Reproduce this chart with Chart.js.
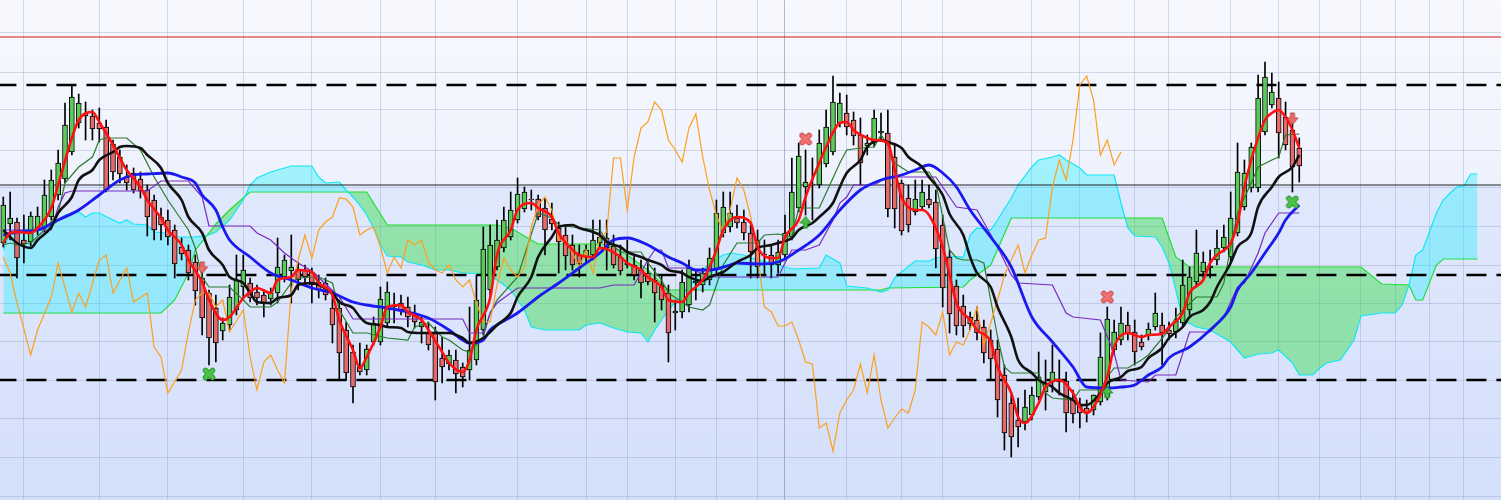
<!DOCTYPE html>
<html>
<head>
<meta charset="utf-8">
<script src="https://cdn.jsdelivr.net/npm/chart.js@4.4.1/dist/chart.umd.min.js"></script>
<style>
  html, body { margin: 0; padding: 0; background: #ffffff; }
  #wrap { width: 1501px; height: 500px; }
</style>
</head>
<body>
<div id="wrap"><canvas id="ichimokuChart"></canvas></div>
<script>
// candles, one per bar index
var candleOpen = [257,276,278,260,258,270,272,283,305,321, 348,377,387,384,377,373,356,343,323,327,
  321,310,300,283,280,270,253,250,238,222, 207,192,169,175,190,213,217,208,205,201,
  207,223,229,231,230,228,218,217,192,192, 170,148,133,130,158,158,177,195,197,193,
  187,173,167,167,142,136,140,133,130,140, 170,210,233,252,263,280,291,301,301,292,
  281,272,265,255,245,243,245,257,262,254, 243,237,235,230,227,220,215,207,187,188,
  195,217,215,220,230,267,273,282,278,267, 260,246,245,235,245,263,292,313,316,315,
  336,348,377,387,380,365,354,357,367,367, 343,317,302,288,293,301,298,275,243,214,
  194,183,180,173,160,151,125,97,80,78, 85,103,108,118,120,119,100,94,92,90,
  98,103,150,160,175,168,158,165,173,175, 170,168,177,190,218,228,234,240,252,243,
  267,293,312,312,368,395,402,383,370,352];
var candleHigh = [303,308,282,285,288,293,320,330,350,397, 415,406,398,390,392,380,360,350,335,332,
  328,315,305,292,290,275,262,255,245,235, 210,205,182,215,245,245,222,215,210,212,
  262,245,265,238,235,232,225,222,207,200, 178,155,157,155,183,213,218,207,205,203,
  195,183,178,173,163,150,150,137,193,225, 273,275,280,293,308,322,313,310,305,302,
  297,278,275,265,255,255,280,280,280,265, 255,260,245,240,238,232,225,215,200,230,
  240,230,232,252,300,308,308,295,290,275, 270,260,255,260,285,342,357,350,342,370,
  390,424,407,405,388,382,365,390,387,390, 355,320,315,320,320,315,310,285,250,220,
  205,188,193,180,170,160,135,105,102,110, 113,148,140,155,140,128,110,102,100,105,
  167,193,180,193,188,180,165,177,207,187, 178,192,240,233,270,248,250,270,275,308,
  357,340,357,425,438,427,418,398,385,362];
var candleLow = [253,260,222,237,254,265,268,280,300,317, 345,372,360,360,358,308,320,317,310,307,
  302,264,260,260,255,222,240,220,195,165, 135,138,160,170,185,200,198,195,183,195,
  197,218,197,210,215,197,202,200,157,120, 120,97,125,125,155,155,173,177,185,173,
  172,157,150,100,117,130,107,113,120,135, 165,205,230,248,260,277,288,290,280,245,
  270,227,230,230,223,238,240,252,230,232, 225,232,220,202,215,178,190,138,170,182,
  188,200,208,215,227,263,268,272,260,222, 222,225,222,227,240,260,288,285,280,312,
  333,345,373,365,355,315,345,353,360,283, 272,265,268,285,290,292,232,193,167,165,
  163,170,160,137,120,83,50,43,53,70, 80,100,90,108,105,68,77,72,78,85,
  95,100,145,155,160,135,150,160,170,135, 160,162,174,185,213,222,222,235,248,238,
  264,290,308,308,365,392,342,350,308,318];
var candleClose = [295,282,242,256,284,284,305,320,337,375, 403,397,384,371,371,310,328,326,317,310,
  309,283,270,275,263,236,246,227,209,182, 162,157,177,203,220,230,202,202,197,207,
  233,240,233,220,223,215,210,205,175,147, 127,113,128,151,177,201,208,193,190,183,
  178,178,155,118,133,145,126,123,150,200, 251,255,260,280,290,306,308,300,283,270,
  276,258,244,235,236,250,260,263,252,235, 229,235,225,217,218,207,200,167,189,218,
  232,219,227,242,287,293,287,277,267,248, 233,245,235,248,267,308,344,318,315,357,
  373,398,397,373,364,337,357,382,369,291, 291,269,275,301,308,295,251,212,186,174,
  174,176,167,147,141,100,67,63,73,93, 105,123,117,128,118,87,86,87,87,105,
  143,181,168,177,167,148,153,171,187,167, 166,179,215,223,247,238,232,252,263,282,
  328,327,353,402,423,408,367,355,333,334];

// indicator lines as [bar index, value]
var fastLine = [[0,257],[1,267],[2,268],[4,267],[5,272],[7,292],[8,315],[10,362],[11,380],[13,388],[14,378],[16,355],[17,342],[18,330],[20,313],[21,300],[23,282],[24,270],[26,255],[27,240],[29,218],[30,200],[32,180],[33,183],[35,202],[36,208],[37,212],[39,207],[40,220],[42,223],[43,230],[45,228],[46,217],[48,205],[49,180],[51,150],[52,132],[53,143],[55,173],[56,193],[58,195],[59,188],[61,180],[62,170],[64,148],[65,137],[67,128],[68,140],[69,170],[71,202],[72,245],[74,270],[75,290],[77,297],[78,292],[80,283],[81,267],[83,250],[84,245],[86,243],[87,252],[88,251],[90,243],[91,237],[93,230],[94,223],[96,213],[97,200],[99,198],[100,207],[102,220],[103,233],[104,250],[105,270],[107,283],[109,277],[110,253],[112,242],[113,242],[114,263],[116,280],[117,303],[119,337],[120,353],[122,377],[123,378],[124,370],[126,362],[127,360],[129,357],[130,330],[131,303],[133,290],[134,290],[135,285],[137,253],[138,225],[139,197],[141,180],[142,170],[144,158],[145,133],[147,107],[148,83],[149,77],[151,97],[152,113],[154,120],[156,107],[157,93],[158,87],[159,93],[161,123],[162,153],[164,167],[166,163],[167,165],[169,166],[170,173],[172,187],[173,207],[175,220],[176,237],[177,245],[179,257],[180,277],[181,313],[182,340],[184,380],[185,387],[186,390],[187,383],[188,370],[189,352]];
var midLine = [[0,270],[1,263],[2,257],[4,252],[5,260],[7,273],[8,287],[10,303],[11,320],[13,330],[14,340],[16,348],[17,353],[18,354],[20,352],[21,345],[23,332],[24,317],[26,300],[27,283],[29,267],[30,250],[32,235],[33,223],[35,217],[36,207],[37,198],[39,197],[40,202],[42,205],[43,215],[45,217],[46,215],[48,207],[49,198],[51,192],[52,183],[53,177],[55,175],[56,173],[58,172],[59,168],[61,167],[65,167],[67,162],[68,157],[70,162],[71,168],[72,175],[74,187],[75,203],[77,223],[78,243],[80,263],[81,273],[83,275],[84,272],[86,268],[87,265],[88,258],[90,253],[91,248],[93,243],[94,240],[96,235],[97,230],[99,227],[100,223],[102,219],[103,223],[105,228],[106,233],[107,238],[109,245],[110,252],[112,255],[113,257],[115,262],[116,270],[118,277],[119,283],[121,297],[122,313],[123,327],[125,340],[126,353],[128,360],[129,358],[131,352],[132,343],[134,333],[135,323],[137,305],[138,286],[140,265],[141,243],[142,227],[144,213],[145,193],[147,163],[148,140],[150,127],[151,120],[153,113],[154,107],[156,100],[157,95],[158,95],[160,107],[161,117],[163,123],[164,129],[166,133],[167,142],[169,152],[170,162],[172,173],[173,183],[175,190],[176,198],[177,213],[179,237],[180,253],[182,267],[183,293],[185,313],[186,323],[188,333],[189,345]];
var slowLine = [[0,265],[2,268],[5,270],[8,280],[11,290],[14,305],[17,320],[19,325],[21,326],[24,327],[26,323],[28,317],[29,305],[31,290],[32,273],[33,260],[36,243],[39,227],[42,220],[45,212],[48,207],[51,198],[53,195],[56,192],[59,188],[62,182],[65,170],[67,160],[68,157],[70,160],[71,170],[72,175],[75,187],[78,203],[81,217],[84,232],[87,247],[89,260],[91,262],[94,255],[97,243],[99,237],[101,230],[103,230],[106,235],[107,237],[110,236],[113,238],[116,250],[119,265],[122,290],[125,310],[128,320],[131,325],[133,330],[135,335],[137,327],[139,313],[141,290],[144,263],[147,233],[150,183],[153,158],[156,133],[158,113],[161,112],[163,113],[165,115],[167,125],[169,133],[170,142],[173,153],[176,170],[179,193],[180,210],[182,227],[184,247],[186,267],[187,280],[189,295]];
var tenkanLine = [[0,255],[1,257],[2,255],[4,257],[6,270],[8,287],[9,317],[11,333],[13,343],[14,360],[15,362],[18,362],[20,350],[22,323],[24,300],[26,280],[27,270],[28,252],[29,223],[30,213],[33,213],[35,200],[36,193],[39,193],[40,198],[42,217],[43,222],[46,223],[48,217],[49,190],[51,167],[53,167],[56,162],[59,160],[60,173],[62,177],[64,163],[65,160],[67,150],[68,148],[70,163],[71,187],[72,200],[75,223],[78,287],[80,282],[81,275],[84,272],[87,270],[88,260],[90,248],[93,248],[94,237],[96,220],[97,207],[99,198],[100,193],[102,190],[103,195],[104,215],[105,235],[107,257],[110,257],[111,265],[113,266],[115,263],[116,292],[119,292],[120,307],[122,337],[123,350],[125,352],[127,353],[128,365],[129,355],[130,337],[132,328],[135,328],[136,317],[137,283],[138,250],[139,242],[140,240],[142,240],[143,237],[144,200],[145,163],[146,133],[147,127],[151,127],[152,107],[153,102],[156,100],[157,110],[160,110],[161,123],[162,132],[164,132],[166,140],[167,145],[170,170],[171,183],[174,203],[177,203],[178,217],[179,253],[180,287],[182,317],[183,333],[185,340],[186,343],[187,365],[189,366]];
var kijunLine = [[0,270],[7,270],[8,293],[9,307],[10,309],[21,309],[23,319],[27,319],[29,303],[30,274],[36,274],[37,267],[39,260],[41,247],[43,237],[45,229],[49,203],[51,181],[67,181],[68,167],[70,167],[71,187],[72,197],[75,212],[87,212],[89,215],[92,215],[94,240],[95,250],[96,250],[97,232],[100,232],[103,223],[113,223],[114,237],[115,250],[117,250],[119,255],[121,280],[122,297],[123,303],[124,315],[127,315],[129,323],[136,323],[137,313],[139,293],[142,290],[145,253],[147,225],[148,217],[153,215],[155,187],[156,183],[160,180],[162,147],[163,120],[167,118],[168,125],[171,125],[173,168],[176,168],[178,183],[180,213],[181,217],[183,247],[184,267],[186,287],[189,287]];
var laggingLine = [[0,243],[1,227],[2,197],[4,145],[5,170],[7,203],[8,237],[10,188],[11,207],[12,193],[14,240],[15,245],[16,207],[18,232],[19,198],[21,207],[22,153],[23,143],[24,107],[26,130],[27,168],[28,200],[29,207],[30,207],[31,193],[32,200],[33,168],[35,190],[36,143],[37,110],[38,138],[39,145],[40,130],[41,117],[42,210],[43,240],[44,265],[45,242],[46,270],[47,278],[48,283],[49,302],[50,301],[51,293],[52,265],[53,270],[54,273],[55,253],[56,227],[57,243],[58,232],[59,260],[60,255],[61,260],[62,238],[63,230],[64,227],[65,235],[66,220],[67,213],[68,220],[69,197],[70,178],[71,178],[72,215],[73,242],[74,230],[75,223],[76,233],[77,273],[78,295],[79,303],[80,290],[81,260],[82,260],[83,247],[84,233],[85,250],[86,227],[87,263],[88,268],[89,342],[90,342],[91,290],[92,343],[93,372],[94,378],[95,398],[96,390],[97,360],[98,350],[99,338],[100,372],[101,386],[102,343],[103,310],[104,285],[105,267],[106,290],[107,322],[108,310],[109,283],[110,245],[111,193],[112,188],[113,174],[114,174],[115,178],[116,160],[117,138],[118,136],[119,72],[120,77],[121,49],[122,87],[123,100],[124,110],[125,136],[126,107],[127,145],[128,100],[129,72],[130,82],[131,91],[132,87],[133,110],[134,178],[135,173],[136,165],[137,188],[138,145],[139,158],[140,155],[141,170],[142,193],[143,155],[144,177],[145,200],[146,225],[147,240],[148,255],[149,227],[150,245],[151,260],[152,262],[153,313],[154,340],[155,320],[156,360],[157,415],[158,424],[159,400],[160,345],[161,360],[162,335],[163,348]];
var spanA = [[0,250],[1,267],[4,272],[7,273],[8,280],[9,285],[11,288],[12,283],[13,287],[14,287],[16,280],[17,277],[18,280],[19,276],[21,275],[22,268],[24,267],[25,263],[28,263],[30,265],[31,268],[33,280],[35,300],[36,315],[37,322],[39,328],[42,334],[45,334],[46,323],[47,317],[49,318],[50,310],[51,303],[52,295],[53,285],[54,272],[55,255],[56,244],[58,243],[59,238],[61,235],[63,230],[65,230],[67,227],[70,226],[71,225],[74,210],[76,190],[77,173],[79,170],[81,170],[84,170],[85,175],[87,177],[89,172],[91,168],[93,167],[94,158],[95,170],[97,190],[99,205],[101,222],[103,237],[105,245],[106,247],[108,245],[110,240],[112,237],[115,231],[119,232],[120,245],[122,237],[123,214],[126,212],[128,208],[129,210],[130,222],[131,228],[133,239],[135,239],[136,242],[138,244],[140,243],[141,265],[142,272],[144,270],[145,280],[147,302],[148,315],[150,333],[151,340],[153,343],[154,345],[155,340],[157,332],[158,325],[162,325],[163,297],[164,272],[165,264],[168,263],[169,253],[170,237],[171,210],[172,180],[174,173],[176,170],[179,158],[181,142],[183,146],[185,147],[186,150],[188,137],[189,125],[191,125],[192,132],[193,137],[195,140],[197,160],[198,184],[201,187],[203,187],[204,195],[205,215],[206,245],[207,250],[209,287],[210,300],[211,307],[212,313],[213,314],[214,326],[215,326]];
var spanB = [[0,187],[23,187],[25,200],[27,227],[28,250],[30,267],[31,276],[33,290],[35,302],[36,308],[53,308],[56,275],[72,275],[74,272],[78,256],[88,256],[91,245],[94,230],[97,210],[128,210],[129,212],[140,213],[141,220],[144,235],[147,282],[169,282],[171,243],[173,233],[198,233],[201,216],[205,215],[206,200],[207,200],[209,235],[210,241],[215,241]];

// signals
var sellCross = [[117,361],[161,203]];
var buyCross = [[30,126],[188,298]];
var sellArrow = [[29,232],[188,381]];
var buyArrow = [[117,278],[161,108]];

// levels and grid
var dashedLevels = [415, 225, 120];
var blackLevel = 315;
var redLevel = 463;
var gridDays = [3,14,24,35,45,55,63,75,85,91,98,104,110,114,123,131,137,150,157,165,170,179,186,192,198,203,208,213];
var gridLevels = [4,43,82,120,158,197,235,273,313,350,390,428,467];

var upColor = '#5acb5a';
var downColor = '#e36a6a';

function pts(arr) {
  return arr.map(function (p) { return { x: p[0], y: p[1] }; });
}

function markCanvas(kind, fill, edge) {
  var cv = document.createElement('canvas');
  cv.width = 14; cv.height = 14;
  var g = cv.getContext('2d');
  if (kind === 'x') {
    g.lineCap = 'round';
    g.beginPath();
    g.moveTo(3.5, 3.5); g.lineTo(10.5, 10.5);
    g.moveTo(10.5, 3.5); g.lineTo(3.5, 10.5);
    g.strokeStyle = edge; g.lineWidth = 5.5; g.stroke();
    g.strokeStyle = fill; g.lineWidth = 3.5; g.stroke();
  } else {
    var shape = [[5, 1], [9, 1], [9, 6], [12.5, 6], [7, 12.5], [1.5, 6], [5, 6]];
    g.beginPath();
    shape.forEach(function (p, i) {
      var y = kind === 'down' ? p[1] : 14 - p[1];
      if (i === 0) g.moveTo(p[0], y); else g.lineTo(p[0], y);
    });
    g.closePath();
    g.fillStyle = fill; g.fill();
    g.strokeStyle = edge; g.lineWidth = 1; g.stroke();
  }
  return cv;
}

function lineSet(data, color, width, order, smooth) {
  return {
    type: 'line', data: pts(data), borderColor: color, borderWidth: width,
    pointRadius: 0, pointHoverRadius: 0, fill: false, order: order,
    cubicInterpolationMode: smooth ? 'monotone' : 'default', tension: 0
  };
}

function levelSet(level, color, width, dash) {
  return {
    type: 'line', data: [{ x: -1, y: level }, { x: 220, y: level }],
    borderColor: color, borderWidth: width, borderDash: dash || [],
    pointRadius: 0, fill: false, order: 7
  };
}

function markSet(data, style) {
  return {
    type: 'line', data: pts(data), showLine: false, pointStyle: style,
    pointRadius: 6, pointHoverRadius: 6, order: 0
  };
}

var backdrop = {
  id: 'backdrop',
  beforeDraw: function (chart) {
    var a = chart.chartArea, c = chart.ctx;
    var yb = chart.scales.y.getPixelForValue(blackLevel);
    c.save();
    var g1 = c.createLinearGradient(0, a.top, 0, yb);
    g1.addColorStop(0, '#f8f9fe');
    g1.addColorStop(1, '#eef2fd');
    c.fillStyle = g1;
    c.fillRect(a.left, a.top, a.right - a.left, yb - a.top);
    var g2 = c.createLinearGradient(0, yb, 0, a.bottom);
    g2.addColorStop(0, '#e0e8fc');
    g2.addColorStop(1, '#d4dffa');
    c.fillStyle = g2;
    c.fillRect(a.left, yb, a.right - a.left, a.bottom - yb);
    c.restore();
  }
};

var datasets = [
  {
    type: 'line', data: pts(spanA), borderColor: '#12e6f6', borderWidth: 1.2,
    pointRadius: 0, order: 9,
    fill: { target: '+1', above: 'rgba(0,240,255,0.32)', below: 'rgba(40,220,60,0.42)' }
  },
  { type: 'line', data: pts(spanB), borderColor: '#22dd22', borderWidth: 1.2, pointRadius: 0, fill: false, order: 10 }
];
dashedLevels.forEach(function (lv) { datasets.push(levelSet(lv, '#000000', 2.5, [20, 10])); });
datasets.push(levelSet(blackLevel, '#222222', 1));
datasets.push(levelSet(redLevel, '#dd1111', 1));
datasets.push({
  type: 'bar', grouped: false, order: 6, barThickness: 1,
  data: candleLow.map(function (l, i) { return { x: i, y: [l, candleHigh[i]] }; }),
  backgroundColor: '#000000', borderWidth: 0
});
datasets.push({
  type: 'bar', grouped: false, order: 5, barThickness: 5,
  data: candleOpen.map(function (o, i) { return { x: i, y: [o, candleClose[i]] }; }),
  backgroundColor: candleOpen.map(function (o, i) { return candleClose[i] >= o ? upColor : downColor; }),
  borderColor: '#000000', borderWidth: 1, borderSkipped: false
});
datasets.push(lineSet(laggingLine, '#ff9f1c', 1.2, 4, false));
datasets.push(lineSet(kijunLine, '#7a2ac0', 1.2, 4, false));
datasets.push(lineSet(tenkanLine, '#2a7a2a', 1.2, 4, false));
datasets.push(lineSet(slowLine, '#1a1aee', 2.8, 3, true));
datasets.push(lineSet(midLine, '#111111', 2.6, 2, true));
datasets.push(lineSet(fastLine, '#ff1010', 2.6, 1, true));
datasets.push(markSet(sellCross, markCanvas('x', '#f07272', '#d04a4a')));
datasets.push(markSet(buyCross, markCanvas('x', '#4cc44c', '#2f9a2f')));
datasets.push(markSet(sellArrow, markCanvas('down', '#ec6a6a', '#c04545')));
datasets.push(markSet(buyArrow, markCanvas('up', '#45c045', '#2a8a2a')));

var gridColor = 'rgba(120,132,175,0.28)';

var ctx = document.getElementById('ichimokuChart').getContext('2d');
var ichimokuChart = new Chart(ctx, {
  type: 'bar',
  data: { datasets: datasets },
  plugins: [backdrop],
  options: {
    responsive: true,
    maintainAspectRatio: false,
    animation: false,
    layout: { padding: 0, autoPadding: false },
    plugins: { legend: { display: false }, tooltip: { enabled: false } },
    scales: {
      x: {
        type: 'linear', min: -0.48, max: 218.42, offset: false,
        afterBuildTicks: function (s) { s.ticks = gridDays.map(function (v) { return { value: v }; }); },
        afterFit: function (s) { s.height = 0; },
        ticks: { display: false },
        border: { display: false },
        grid: {
          drawTicks: false, offset: false,
          color: function (c) { return c.tick && c.tick.value === 114 ? 'rgba(100,106,145,0.45)' : gridColor; }
        }
      },
      y: {
        type: 'linear', min: 0, max: 500,
        afterBuildTicks: function (s) { s.ticks = gridLevels.map(function (v) { return { value: v }; }); },
        afterFit: function (s) { s.width = 0; },
        ticks: { display: false },
        border: { display: false },
        grid: { drawTicks: false, color: gridColor }
      }
    }
  }
});
</script>
</body>
</html>
